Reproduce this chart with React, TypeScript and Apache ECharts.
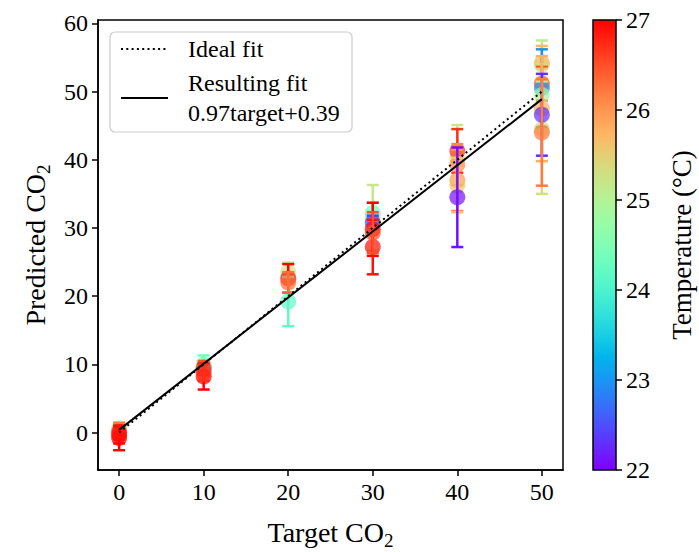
import React, { useEffect, useRef } from 'react';
import * as echarts from 'echarts';

// ---- data ----
const targets = [
  0, 0, 0, 0, 0,
  10, 10, 10, 10, 10,
  20, 20, 20, 20,
  30, 30, 30, 30, 30, 30,
  40, 40, 40, 40, 40, 40,
  50, 50, 50, 50, 50, 50, 50, 50, 50,
];
const predicted = [
  0.6, 0.2, -0.4, -0.8, 0.0,
  10.0, 9.3, 9.5, 8.2, 8.8,
  23.5, 22.6, 19.2, 22.0,
  31.5, 32.2, 30.8, 29.8, 27.2, 29.3,
  40.2, 41.3, 39.3, 37.0, 36.3, 34.5,
  53.9, 54.2, 51.2, 50.5, 49.5, 44.5, 47.5, 46.6, 44.0,
];
const errors = [
  0.9, 1.2, 1.2, 1.8, 1.0,
  1.3, 0.8, 1.0, 1.9, 1.2,
  1.4, 2.1, 3.6, 1.5,
  4.8, 1.5, 1.0, 3.9, 4.0, 3.0,
  4.9, 3.2, 3.0, 4.5, 4.0, 7.3,
  3.6, 2.5, 2.5, 5.7, 2.0, 9.5, 7.7, 6.0, 7.8,
];
const temperatures = [
  24.6, 26.2, 26.8, 27.0, 26.9,
  24.4, 23.0, 26.5, 27.0, 26.7,
  25.3, 27.0, 24.2, 26.3,
  25.2, 24.3, 22.4, 27.0, 26.9, 26.5,
  25.2, 26.7, 26.1, 26.0, 25.6, 22.1,
  25.1, 25.7, 26.5, 23.0, 24.9, 25.3, 25.8, 22.3, 26.2,
];
const xTicks = [0, 10, 20, 30, 40, 50];
const yTicks = [0, 10, 20, 30, 40, 50, 60];
const idealFit = [[0, 0], [50, 50]];
const resultingFit = [[0, 0.39], [50, 48.89]];
const legendIdeal = 'Ideal fit';
const legendFit = 'Resulting fit';
const fitFormula = '0.97target+0.39';

const FONT = 'Liberation Serif, DejaVu Serif, serif';
const TMIN = 22;
const TMAX = 27;
const NAME_SIZE = 28;

function rainbow(T: number): [number, number, number] {
  let x = (T - TMIN) / (TMAX - TMIN);
  x = Math.max(0, Math.min(1, x));
  const r = Math.min(1, Math.abs(2 * x - 0.5));
  const g = Math.max(0, Math.sin(Math.PI * x));
  const b = Math.max(0, Math.cos((Math.PI * x) / 2));
  return [Math.round(r * 255), Math.round(g * 255), Math.round(b * 255)];
}

export default function App() {
  const ref = useRef<HTMLDivElement>(null);
  useEffect(() => {
    if (!ref.current) return;
    const chart = echarts.init(ref.current, undefined, { renderer: 'svg' });

    const gradStops = [];
    for (let i = 0; i <= 20; i++) {
      const T = TMAX - (i / 20) * (TMAX - TMIN);
      const [r, g, b] = rainbow(T);
      gradStops.push({ offset: i / 20, color: `rgb(${r},${g},${b})` });
    }

    const axisText = { color: '#000', fontFamily: FONT, fontSize: 24 };
    const nameRich = {
      n: { fontFamily: FONT, fontSize: NAME_SIZE, color: '#000', lineHeight: 30 },
      s: { fontFamily: FONT, fontSize: 19, color: '#000', lineHeight: 19, verticalAlign: 'bottom', padding: [0, 0, -3, 0] },
    };

    const option: any = {
      animation: false,
      backgroundColor: '#fff',
      textStyle: { fontFamily: FONT },
      grid: [
        { left: 98, top: 20, width: 465, height: 450, show: true, borderColor: '#000', borderWidth: 1.5, backgroundColor: 'transparent', containLabel: false, outerBoundsMode: 'none' },
        { left: 593, top: 20, width: 23, height: 450, containLabel: false, outerBoundsMode: 'none' },
      ],
      xAxis: [
        {
          gridIndex: 0,
          type: 'value',
          min: -2.5,
          max: 52.5,
          axisLine: { show: true, onZero: false, lineStyle: { color: '#000', width: 1.5 } },
          axisTick: { show: true, inside: false, length: 6, lineStyle: { color: '#000', width: 1.5 }, customValues: xTicks },
          axisLabel: { ...axisText, margin: 10, customValues: xTicks },
          splitLine: { show: false },
          name: '{n|Target CO}{s|2}',
          nameLocation: 'middle',
          nameGap: 47,
          nameTextStyle: { rich: nameRich },
        },
        { gridIndex: 1, type: 'value', min: 0, max: 1, show: false },
      ],
      yAxis: [
        {
          gridIndex: 0,
          type: 'value',
          min: -5.5,
          max: 60.5,
          axisLine: { show: true, onZero: false, lineStyle: { color: '#000', width: 1.5 } },
          axisTick: { show: true, inside: false, length: 6, lineStyle: { color: '#000', width: 1.5 }, customValues: yTicks },
          axisLabel: { ...axisText, margin: 10, customValues: yTicks },
          splitLine: { show: false },
          name: '{n|Predicted CO}{s|2}',
          nameLocation: 'middle',
          nameGap: 46,
          nameRotate: 90,
          nameTextStyle: { rich: nameRich },
        },
        {
          gridIndex: 1,
          type: 'value',
          position: 'right',
          min: TMIN,
          max: TMAX,
          interval: 1,
          axisLine: { show: false, onZero: false },
          axisTick: { show: true, inside: false, length: 6, lineStyle: { color: '#000', width: 1.5 } },
          axisLabel: { ...axisText, margin: 10 },
          splitLine: { show: false },
          name: 'Temperature (°C)',
          nameLocation: 'middle',
          nameRotate: 90,
          nameGap: 52,
          nameTextStyle: { fontFamily: FONT, fontSize: 27, color: '#000' },
        },
      ],
      series: [
        {
          type: 'custom',
          xAxisIndex: 0,
          yAxisIndex: 0,
          data: targets.map((t, i) => [t, predicted[i], errors[i], temperatures[i]]),
          renderItem: (params: any, api: any) => {
            const x = api.value(0);
            const y = api.value(1);
            const e = api.value(2);
            const T = api.value(3);
            const c = api.coord([x, y]);
            const top = api.coord([x, y + e]);
            const bot = api.coord([x, y - e]);
            const [r, g, b] = rainbow(T);
            const solid = `rgb(${r},${g},${b})`;
            const faded = `rgba(${r},${g},${b},0.7)`;
            const cw = 6;
            return {
              type: 'group',
              children: [
                { type: 'line', shape: { x1: c[0], y1: top[1], x2: c[0], y2: bot[1] }, style: { stroke: solid, lineWidth: 2.5 } },
                { type: 'line', shape: { x1: c[0] - cw, y1: top[1], x2: c[0] + cw, y2: top[1] }, style: { stroke: solid, lineWidth: 2.5 } },
                { type: 'line', shape: { x1: c[0] - cw, y1: bot[1], x2: c[0] + cw, y2: bot[1] }, style: { stroke: solid, lineWidth: 2.5 } },
                { type: 'circle', shape: { cx: c[0], cy: c[1], r: 8 }, style: { fill: faded } },
              ],
            };
          },
          z: 2,
        },
        {
          type: 'line',
          name: legendIdeal,
          xAxisIndex: 0,
          yAxisIndex: 0,
          data: idealFit,
          showSymbol: false,
          symbol: 'none',
          lineStyle: { color: '#000', width: 2, type: [2, 3.3] },
          z: 5,
        },
        {
          type: 'line',
          name: legendFit,
          xAxisIndex: 0,
          yAxisIndex: 0,
          data: resultingFit,
          showSymbol: false,
          symbol: 'none',
          lineStyle: { color: '#000', width: 2 },
          z: 5,
        },
        {
          type: 'custom',
          xAxisIndex: 1,
          yAxisIndex: 1,
          data: [[0, TMIN, 1, TMAX]],
          renderItem: (params: any, api: any) => {
            const p0 = api.coord([0, TMAX]);
            const p1 = api.coord([1, TMIN]);
            return {
              type: 'rect',
              shape: { x: p0[0], y: p0[1], width: p1[0] - p0[0], height: p1[1] - p0[1] },
              style: {
                fill: new echarts.graphic.LinearGradient(0, 0, 0, 1, gradStops),
                stroke: '#000',
                lineWidth: 1.5,
              },
            };
          },
          silent: true,
        },
      ],
      graphic: [
        {
          type: 'group',
          z: 100,
          children: [
            { type: 'rect', shape: { x: 110, y: 32, width: 242, height: 100, r: 5 }, style: { fill: 'rgba(255,255,255,0.8)', stroke: '#cccccc', lineWidth: 1.2 } },
            { type: 'line', shape: { x1: 121, y1: 49, x2: 168, y2: 49 }, style: { stroke: '#000', lineWidth: 2, lineDash: [2, 3.3] } },
            { type: 'text', x: 188, y: 49, style: { text: legendIdeal, fontFamily: FONT, fontSize: 24, fill: '#000', verticalAlign: 'middle', align: 'left' } },
            { type: 'line', shape: { x1: 121, y1: 98, x2: 168, y2: 98 }, style: { stroke: '#000', lineWidth: 2 } },
            { type: 'text', x: 188, y: 83, style: { text: legendFit, fontFamily: FONT, fontSize: 24, fill: '#000', verticalAlign: 'middle', align: 'left' } },
            { type: 'text', x: 188, y: 113, style: { text: fitFormula, fontFamily: FONT, fontSize: 24, fill: '#000', verticalAlign: 'middle', align: 'left' } },
          ],
        },
      ],
    };

    chart.setOption(option);
    return () => chart.dispose();
  }, []);

  return <div ref={ref} style={{ width: 699, height: 552, position: 'absolute', left: 0, top: 0 }} />;
}
